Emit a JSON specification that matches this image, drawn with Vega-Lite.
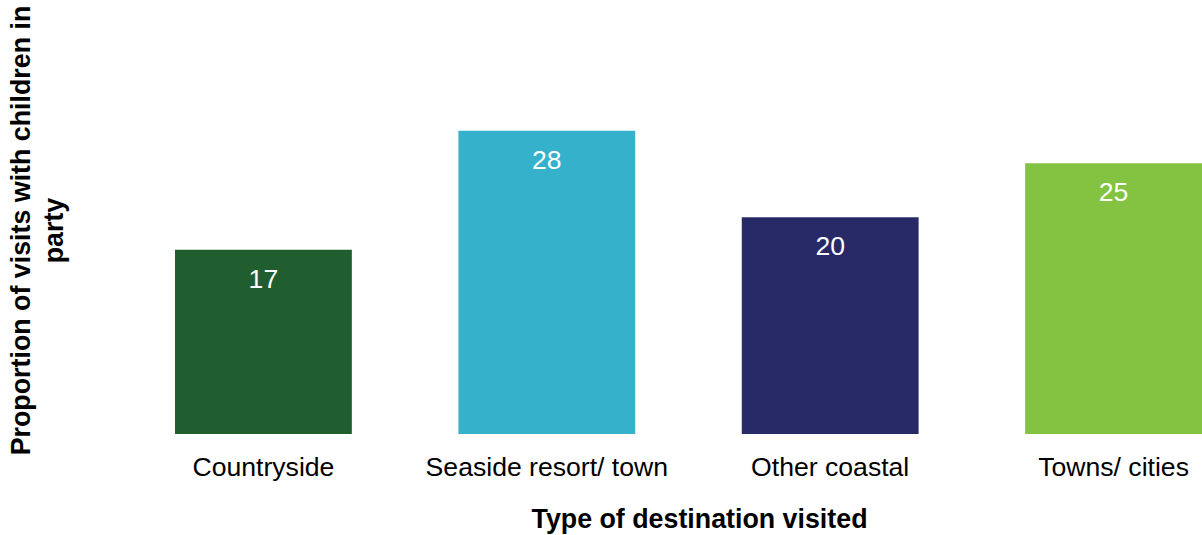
{
  "$schema": "https://vega.github.io/schema/vega-lite/v6.json",
  "autosize": {"type": "none"},
  "padding": {"left": 175, "top": 109, "right": 0, "bottom": 101},
  "width": 1027,
  "height": 325,
  "background": "white",
  "config": {"view": {"stroke": null}, "font": "Liberation Sans"},
  "data": {"values": [
    {"destination": "Countryside", "value": 17},
    {"destination": "Seaside resort/ town", "value": 28},
    {"destination": "Other coastal", "value": 20},
    {"destination": "Towns/ cities", "value": 25}
  ]},
  "encoding": {
    "x": {
      "field": "destination", "type": "nominal", "sort": null,
      "scale": {"paddingInner": 0.376, "paddingOuter": 0},
      "axis": {
        "title": "Type of destination visited",
        "labelAngle": 0, "labelFontSize": 26.6, "labelColor": "#000000", "labelFont": "Liberation Sans",
        "labelPadding": 20, "labelLimit": 0, "domain": false, "ticks": false,
        "titleFontSize": 26.8, "titleFontWeight": "bold", "titleColor": "#000000", "titleFont": "Liberation Sans",
        "titleX": 524, "titleY": 93, "titleBaseline": "alphabetic", "titleAlign": "center", "titleAnchor": null
      }
    },
    "y": {
      "field": "value", "type": "quantitative",
      "scale": {"domain": [0, 30], "nice": false},
      "axis": {
        "title": ["Proportion of visits with children in", "party"],
        "labels": false, "ticks": false, "domain": false, "grid": false,
        "titleFontSize": 26.8, "titleFontWeight": "bold", "titleColor": "#000000", "titleFont": "Liberation Sans",
        "titleAngle": -90, "titleX": -167, "titleY": 121, "titleBaseline": "top", "titleAlign": "center",
        "titleLineHeight": 33, "titleAnchor": null
      }
    }
  },
  "layer": [
    {
      "mark": {"type": "bar"},
      "encoding": {
        "color": {
          "field": "destination", "type": "nominal", "legend": null,
          "scale": {
            "domain": ["Countryside", "Seaside resort/ town", "Other coastal", "Towns/ cities"],
            "range": ["#205e30", "#36b1cb", "#282a67", "#83c341"]
          }
        }
      }
    },
    {
      "mark": {"type": "text", "baseline": "middle", "align": "center", "dy": 30, "fontSize": 26.6, "color": "#ffffff", "font": "Liberation Sans"},
      "encoding": {"text": {"field": "value", "type": "quantitative"}}
    }
  ]
}
